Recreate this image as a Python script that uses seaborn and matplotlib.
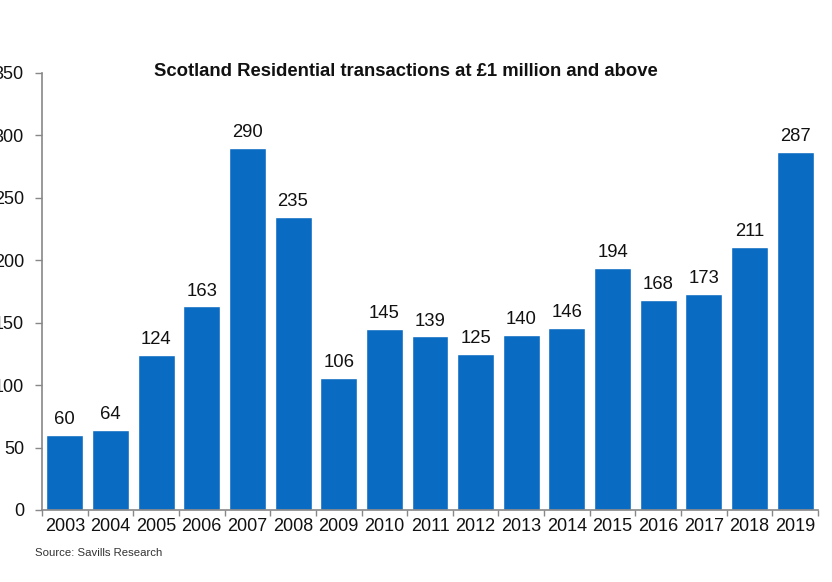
import matplotlib
matplotlib.use("Agg")
import matplotlib.pyplot as plt
import seaborn as sns
import pandas as pd
import numpy as np

years = ["2003", "2004", "2005", "2006", "2007", "2008", "2009", "2010", "2011",
         "2012", "2013", "2014", "2015", "2016", "2017", "2018", "2019"]
values = [60, 64, 124, 163, 290, 235, 106, 145, 139, 125, 140, 146, 194, 168, 173, 211, 287]
y_ticks = [0, 50, 100, 150, 200, 250, 300, 350]
title = "Scotland Residential transactions at £1 million and above"
source = "Source: Savills Research"

sns.set_theme(style="white")
plt.rcParams['font.family'] = ['Liberation Sans', 'DejaVu Sans']

df = pd.DataFrame({"year": years, "value": values})

fig = plt.figure(figsize=(8.32, 5.82), dpi=100)
ax = fig.add_axes([42/832, 1-510/582, (818-42)/832, (510-73)/582])
bar_color = "#0A6BC2"
sns.barplot(data=df, x="year", y="value", color=bar_color, width=0.81,
            saturation=1, ax=ax)

ax.set_xlim(-0.5, len(years) - 0.5)
ax.set_ylim(0, 350)
ax.set_yticks(y_ticks)
ax.set_yticklabels([str(t) for t in y_ticks])
ax.set_xlabel("")
ax.set_ylabel("")

for i, v in enumerate(values):
    ax.annotate(str(v), (i, v), xytext=(0, 5), textcoords="offset points",
                ha="center", va="bottom", fontsize=13.3, color="#111111")

for s in ["top", "right"]:
    ax.spines[s].set_visible(False)
for s in ["left", "bottom"]:
    ax.spines[s].set_visible(True)
    ax.spines[s].set_color("#888888")
    ax.spines[s].set_linewidth(1.2)

ax.tick_params(axis="y", which="major", direction="out", length=5, width=1,
               color="#888888", pad=8, labelsize=13, left=True, labelcolor="#111111")
ax.tick_params(axis="x", which="major", length=0, pad=6, labelsize=13, labelcolor="#111111")
ax.set_xticks(np.arange(-0.5, len(years), 1.0), minor=True)
ax.tick_params(axis="x", which="minor", direction="out", length=4, width=1,
               color="#888888", bottom=True)

fig.text(406/832, 1-72/582, title, ha="center", va="center",
         fontsize=13.3, fontweight="bold", color="#111111")
fig.text(35/832, 1-553/582, source, ha="left", va="center",
         fontsize=8.2, color="#333333")

fig.savefig("out.png", dpi=100)
